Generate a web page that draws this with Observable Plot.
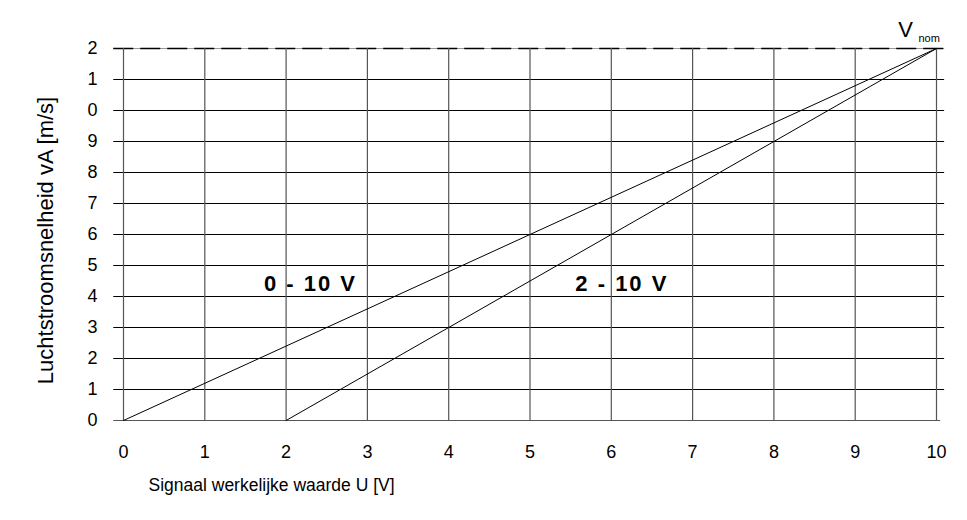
<!DOCTYPE html>
<html><head><meta charset="utf-8">
<script src="https://cdn.jsdelivr.net/npm/d3@7"></script>
<script src="https://cdn.jsdelivr.net/npm/@observablehq/plot@0.6"></script>
<style>
body{margin:0;background:#fff;}
#chart svg{display:block;}
.series-label text{letter-spacing:2px;}
</style>
</head><body><div id="chart"></div>
<script>
const xTicks = [0, 1, 2, 3, 4, 5, 6, 7, 8, 9, 10];
const yTicks = [0, 1, 2, 3, 4, 5, 6, 7, 8, 9, 10, 11, 12];
const yTickLabels = ["0", "1", "2", "3", "4", "5", "6", "7", "8", "9", "0", "1", "2"];
const line0to10 = [{u: 0, v: 0}, {u: 10, v: 12}];
const line2to10 = [{u: 2, v: 0}, {u: 10, v: 12}];
const seriesLabels = [
  {u: 2.3, v: 4.4, text: "0 - 10 V"},
  {u: 6.13, v: 4.4, text: "2 - 10 V"}
];
const vnomMain = [{u: 9.62, v: 12.6, text: "V"}];
const vnomSub = [{u: 9.91, v: 12.32, text: "nom"}];
const xTitle = "Signaal werkelijke waarde U [V]";
const yTitle = "Luchtstroomsnelheid vA [m/s]";

const font = "'Liberation Sans', Arial, Helvetica, sans-serif";
const chart = Plot.plot({
  width: 967,
  height: 520,
  marginLeft: 123,
  marginRight: 31,
  marginTop: 48,
  marginBottom: 100,
  style: {fontFamily: font, background: "#fff", color: "#000"},
  x: {domain: [0, 10]},
  y: {domain: [0, 12]},
  marks: [
    Plot.ruleY(yTicks.filter(d => d > 0 && d < 12), {y: d => d, x1: -0.12, x2: 10.1, stroke: "#000", strokeWidth: 1}),
    Plot.ruleY([0], {y: d => d, x1: -0.12, x2: 10.05, stroke: "#555", strokeWidth: 1.2}),
    Plot.ruleY([12], {y: d => d, x1: -0.12, x2: 10.1, stroke: "#999", strokeWidth: 1.2}),
    Plot.ruleY([12], {y: d => d, x1: -0.12, x2: 10.1, stroke: "#000", strokeWidth: 1.4, strokeDasharray: "20,7"}),
    Plot.ruleX(xTicks, {x: d => d, y1: 0, y2: 12, stroke: "#555", strokeWidth: 1.2}),
    Plot.line(line0to10, {x: "u", y: "v", stroke: "#000", strokeWidth: 1}),
    Plot.line(line2to10, {x: "u", y: "v", stroke: "#000", strokeWidth: 1}),
    Plot.text(seriesLabels, {x: "u", y: "v", text: "text", fontSize: 22, fontWeight: "bold", fill: "#000", className: "series-label"}),
    Plot.text(vnomMain, {x: "u", y: "v", text: "text", fontSize: 22, fill: "#000"}),
    Plot.text(vnomSub, {x: "u", y: "v", text: "text", fontSize: 11, fill: "#000"}),
    Plot.axisX({ticks: xTicks, tickSize: 0, tickPadding: 25, fontSize: 18, label: null, tickFormat: d => String(d)}),
    Plot.axisY({ticks: yTicks, tickSize: 0, tickPadding: 26, fontSize: 18, label: null, tickFormat: d => yTickLabels[d]}),
    Plot.text([yTitle], {frameAnchor: "left", text: d => d, dx: -78, dy: 6, rotate: -90, textAnchor: "middle", fontSize: 22, fill: "#000"}),
    Plot.text([xTitle], {frameAnchor: "bottom-left", text: d => d, dx: 25, dy: 70, textAnchor: "start", fontSize: 17.5, fill: "#000"})
  ]
});
document.getElementById("chart").append(chart);
</script>
</body></html>
